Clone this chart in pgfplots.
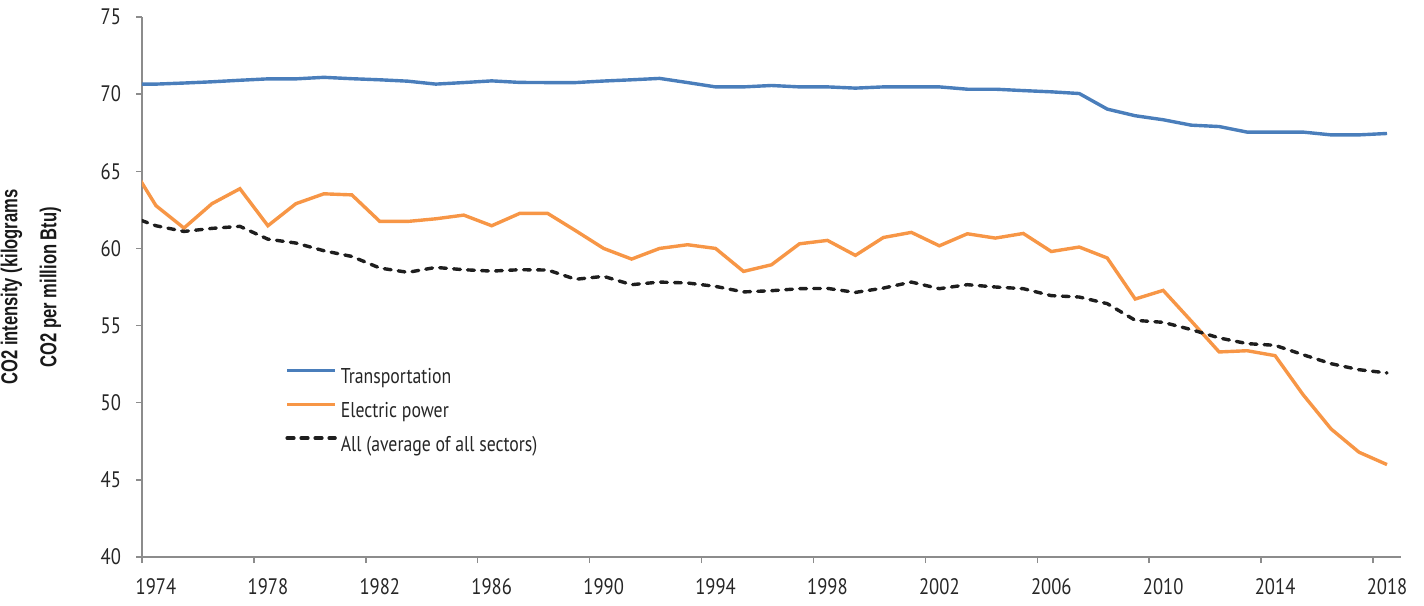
\documentclass[border=0pt]{standalone}
\usepackage{fontspec}
\setmainfont{PT Sans}[FakeStretch=0.83]
\newfontfamily\labelfont{Liberation Sans}[FakeStretch=0.72]
\usepackage{pgfplots}
\usepackage{pgfplotstable}
\pgfplotsset{compat=1.18}
\definecolor{cblue}{HTML}{4A7EBB}
\definecolor{corange}{HTML}{F79646}
\definecolor{cblack}{HTML}{1E1E1E}
\definecolor{caxis}{HTML}{8C8C8C}

\pgfplotstableread{
year trans elec all
1973 70.65 65.71 62.13
1974 70.65 62.77 61.47
1975 70.72 61.32 61.10
1976 70.80 62.90 61.30
1977 70.90 63.87 61.43
1978 70.99 61.47 60.60
1979 70.99 62.90 60.35
1980 71.09 63.54 59.85
1981 71.00 63.47 59.48
1982 70.93 61.75 58.73
1983 70.84 61.75 58.45
1984 70.65 61.92 58.77
1985 70.75 62.16 58.62
1986 70.86 61.47 58.53
1987 70.76 62.27 58.62
1988 70.75 62.27 58.60
1989 70.75 61.15 58.00
1990 70.85 60.00 58.19
1991 70.93 59.31 57.65
1992 71.02 60.00 57.82
1993 70.75 60.24 57.76
1994 70.47 60.00 57.54
1995 70.47 58.51 57.18
1996 70.56 58.94 57.26
1997 70.47 60.30 57.39
1998 70.47 60.52 57.41
1999 70.39 59.55 57.15
2000 70.47 60.71 57.43
2001 70.47 61.04 57.82
2002 70.47 60.17 57.39
2003 70.32 60.95 57.65
2004 70.32 60.67 57.50
2005 70.23 60.97 57.39
2006 70.15 59.80 56.94
2007 70.04 60.09 56.85
2008 69.03 59.38 56.42
2009 68.60 56.72 55.34
2010 68.34 57.28 55.21
2011 67.99 55.30 54.74
2012 67.90 53.29 54.20
2013 67.54 53.37 53.83
2014 67.54 53.05 53.72
2015 67.54 50.52 53.11
2016 67.36 48.30 52.53
2017 67.36 46.79 52.14
2018 67.45 45.99 51.93
}\datatable

\begin{document}
\begin{tikzpicture}
\path[use as bounding box] (-71pt,-24pt) rectangle (641pt,278.5pt);
\begin{axis}[
  at={(0pt,0pt)}, anchor=south west,
  scale only axis,
  width=629.5pt, height=270pt,
  xmin=1973.5, xmax=2018.5,
  ymin=40, ymax=75,
  axis x line*=bottom, axis y line*=left,
  axis line style={caxis, line width=0.75pt},
  tick align=outside,
  major tick length=3pt,
  tick style={caxis, line width=0.75pt},
  xtick={1973.5,1977.5,...,2017.5},
  xticklabels={1974,1978,1982,1986,1990,1994,1998,2002,2006,2010,2014,2018},
  ytick={40,45,...,75},
  /pgf/number format/assume math mode=true,
  ticklabel style={font=\fontsize{11.2}{13}\selectfont, text=black!85},
  xticklabel style={xshift=7pt, yshift=-4pt},
  yticklabel style={xshift=-4pt},
  legend style={
    at={(rel axis cs:0.1136,0.3513)}, anchor=north west,
    draw=none, fill=none, inner sep=0pt,
    font=\fontsize{10.7}{12}\selectfont,
    nodes={inner sep=0pt, text height=8pt, text depth=2.5pt, text=black!85},
    row sep=6.35pt, column sep=2pt,
  },
  legend cell align=left,
  legend image code/.code={\draw[#1] (0pt,3.7pt) -- (24pt,3.7pt);},
]
\addplot[cblue, line width=1.7pt] table[x=year, y=trans] {\datatable};
\addlegendentry{Transportation}
\addplot[corange, line width=1.7pt] table[x=year, y=elec] {\datatable};
\addlegendentry{Electric power}
\addplot[cblack, line width=1.7pt, dash pattern=on 3.4pt off 3.6pt, line cap=round] table[x=year, y=all] {\datatable};
\addlegendentry{All (average of all sectors)}
\end{axis}
\node[rotate=90, align=center, font=\labelfont\bfseries\fontsize{11.5}{19.5}\selectfont, text=black!90] at (-55.5pt,135pt) {CO2 intensity (kilograms\\CO2 per million Btu)};
\end{tikzpicture}
\end{document}
